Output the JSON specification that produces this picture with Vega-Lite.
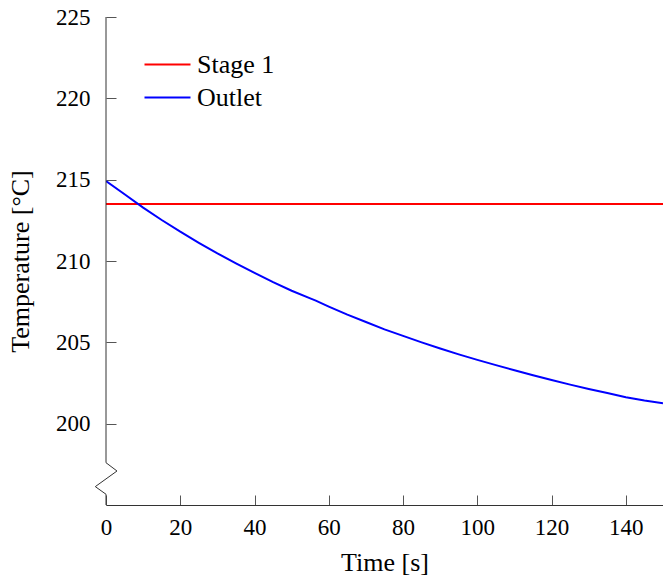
{
"$schema": "https://vega.github.io/schema/vega-lite/v6.json",
"width": 557, "height": 488,
"autosize": {"type": "none"},
"padding": {"left": 106, "top": 17, "right": 0, "bottom": 73},
"config": {
  "view": {"stroke": null},
  "font": "Liberation Serif",
  "axis": {"labelFont": "Liberation Serif", "titleFont": "Liberation Serif", "labelFontSize": 23, "titleFontSize": 26, "labelColor": "#000", "titleColor": "#000", "titleFontWeight": "normal", "grid": false, "tickColor": "#555", "tickWidth": 1, "domainColor": "#333", "domainWidth": 1, "tickSize": -10, "labelFlush": false},
  "legend": {"labelFont": "Liberation Serif", "labelFontSize": 26, "labelColor": "#000"}
},
"layer": [
  {
    "data": {"values": [
      {"series": "Stage 1", "t": 0, "temp": 213.5},
      {"series": "Stage 1", "t": 150, "temp": 213.5},
      {"series": "Outlet", "t": 0, "temp": 214.92},
      {"series": "Outlet", "t": 5, "temp": 214.1},
      {"series": "Outlet", "t": 10, "temp": 213.28},
      {"series": "Outlet", "t": 15, "temp": 212.52},
      {"series": "Outlet", "t": 20, "temp": 211.8},
      {"series": "Outlet", "t": 25, "temp": 211.12},
      {"series": "Outlet", "t": 30, "temp": 210.47},
      {"series": "Outlet", "t": 35, "temp": 209.86},
      {"series": "Outlet", "t": 40, "temp": 209.27},
      {"series": "Outlet", "t": 45, "temp": 208.7},
      {"series": "Outlet", "t": 50, "temp": 208.17},
      {"series": "Outlet", "t": 55, "temp": 207.7},
      {"series": "Outlet", "t": 56.5, "temp": 207.56},
      {"series": "Outlet", "t": 60, "temp": 207.2},
      {"series": "Outlet", "t": 65, "temp": 206.7},
      {"series": "Outlet", "t": 70, "temp": 206.25},
      {"series": "Outlet", "t": 75, "temp": 205.8},
      {"series": "Outlet", "t": 80, "temp": 205.4},
      {"series": "Outlet", "t": 85, "temp": 205.0},
      {"series": "Outlet", "t": 90, "temp": 204.62},
      {"series": "Outlet", "t": 95, "temp": 204.26},
      {"series": "Outlet", "t": 100, "temp": 203.92},
      {"series": "Outlet", "t": 105, "temp": 203.6},
      {"series": "Outlet", "t": 110, "temp": 203.28},
      {"series": "Outlet", "t": 115, "temp": 202.98},
      {"series": "Outlet", "t": 120, "temp": 202.68},
      {"series": "Outlet", "t": 125, "temp": 202.4},
      {"series": "Outlet", "t": 130, "temp": 202.13},
      {"series": "Outlet", "t": 135, "temp": 201.88},
      {"series": "Outlet", "t": 140, "temp": 201.63},
      {"series": "Outlet", "t": 145, "temp": 201.42},
      {"series": "Outlet", "t": 150, "temp": 201.25}
    ]},
    "mark": {"type": "line", "strokeWidth": 2, "clip": true},
    "encoding": {
      "x": {"field": "t", "type": "quantitative", "scale": {"domain": [0, 150], "nice": false, "zero": false},
            "axis": {"title": "Time [s]", "values": [0, 20, 40, 60, 80, 100, 120, 140], "labelPadding": 21, "titlePadding": 10, "domain": true}},
      "y": {"field": "temp", "type": "quantitative", "scale": {"domain": [195, 225], "nice": false, "zero": false},
            "axis": {"title": "Temperature [°C]", "values": [200, 205, 210, 215, 220, 225], "labelPadding": 26, "titlePadding": 22, "domain": false}},
      "color": {"field": "series", "type": "nominal", "scale": {"domain": ["Stage 1", "Outlet"], "range": ["#ff0000", "#0000ff"]},
            "legend": {"title": null, "orient": "none", "legendX": 37, "legendY": 34.5, "padding": 0, "symbolType": "M-1,0H3", "symbolSize": 529, "symbolStrokeWidth": 2, "labelOffset": 28, "rowPadding": 7}}
    }
  },
  {
    "data": {"values": [
      {"i": 0, "t": 0, "temp": 225},
      {"i": 1, "t": 0, "temp": 197.6},
      {"i": 2, "t": 2.96, "temp": 197.09},
      {"i": 3, "t": -2.88, "temp": 196.13},
      {"i": 4, "t": 0, "temp": 195.66},
      {"i": 5, "t": 0, "temp": 195}
    ]},
    "mark": {"type": "line", "color": "#333", "strokeWidth": 1, "clip": false},
    "encoding": {
      "x": {"field": "t", "type": "quantitative"},
      "y": {"field": "temp", "type": "quantitative"},
      "order": {"field": "i", "type": "quantitative"}
    }
  }
]
}
